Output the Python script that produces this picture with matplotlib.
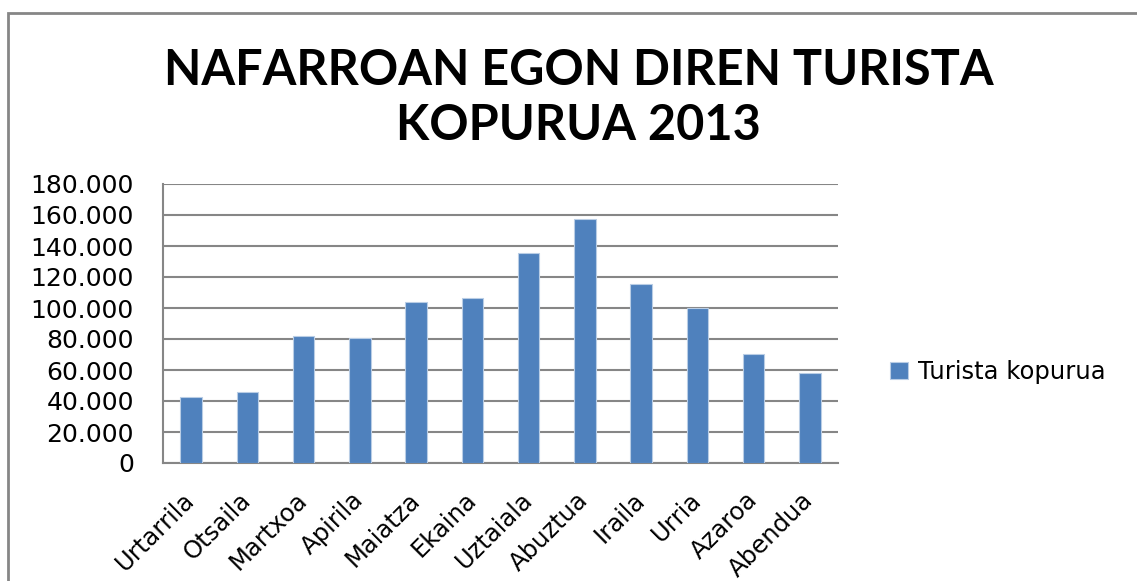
import matplotlib.pyplot as plt
from matplotlib.patches import Rectangle
from matplotlib.ticker import FuncFormatter, MultipleLocator

hilabeteak = ["Urtarrila", "Otsaila", "Martxoa", "Apirila", "Maiatza", "Ekaina",
              "Uztaiala", "Abuztua", "Iraila", "Urria", "Azaroa", "Abendua"]
turistak = [42600, 46100, 82200, 80500, 103800, 106300,
            135200, 157600, 115400, 100300, 70600, 58300]
serie_izena = "Turista kopurua"
izenburua = ["NAFARROAN EGON DIREN TURISTA", "KOPURUA 2013"]

urdina = "#4F81BD"
grisa = "#868686"


def milakoak(v, pos):
    return f"{int(v):,}".replace(",", ".")


fig = plt.figure(figsize=(11.37, 5.81), dpi=100)

# kanpoko markoa
fig.patches.append(Rectangle((8 / 1137, -0.05), 1.2, 1 - 13 / 581 + 0.05,
                             transform=fig.transFigure, fill=False,
                             edgecolor=grisa, linewidth=2))

ax = fig.add_axes([163 / 1137, 118 / 581, 675 / 1137, 279 / 581])
ax.bar(hilabeteak, turistak, width=0.38, color=urdina, edgecolor="#B9CDE5",
       linewidth=0.8, label=serie_izena, zorder=3)

ax.set_ylim(0, 180000)
ax.set_xlim(-0.5, len(hilabeteak) - 0.5)
ax.yaxis.set_major_locator(MultipleLocator(20000))
ax.yaxis.set_major_formatter(FuncFormatter(milakoak))
ax.grid(axis="y", color=grisa, linewidth=1.5, zorder=0)

for s in ["top", "right"]:
    ax.spines[s].set_visible(False)
for s in ["left", "bottom"]:
    ax.spines[s].set_color(grisa)
    ax.spines[s].set_linewidth(1.5)

ax.tick_params(axis="y", length=0, pad=21, labelsize=18)
ax.tick_params(axis="x", length=0, pad=24, labelsize=17.5)
plt.setp(ax.get_xticklabels(), rotation=45, ha="right", va="center",
         rotation_mode="anchor")

for i, lerroa in enumerate(izenburua):
    fig.text(0.509, 1 - (85 + 55 * i) / 581, lerroa, ha="center", va="baseline",
             fontsize=35, fontweight="bold", family=["Lato", "DejaVu Sans"])

ax.legend(loc="center left", bbox_to_anchor=(868 / 1137, 1 - 372 / 581),
          bbox_transform=fig.transFigure, frameon=False, fontsize=17.5,
          handlelength=0.75, handleheight=0.75, handletextpad=0.4)

fig.savefig("out.png", dpi=100)
